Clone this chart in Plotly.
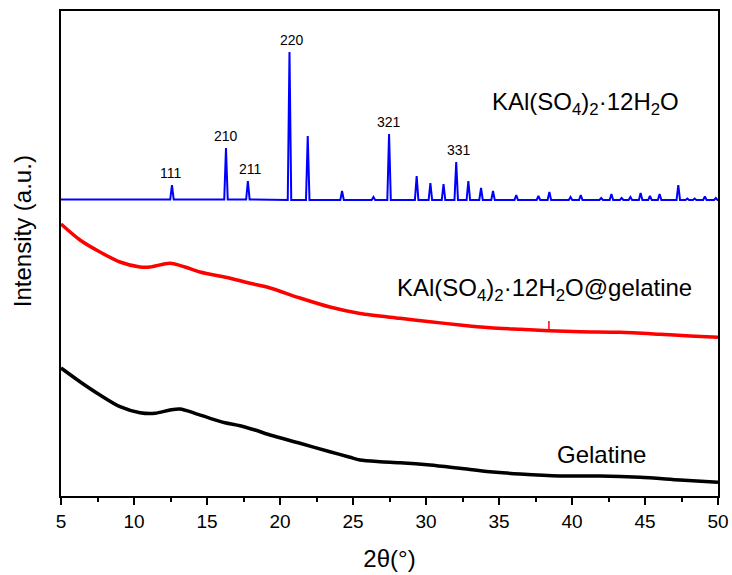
import plotly.graph_objects as go

# ---------------- data ----------------
# KAl(SO4)2·12H2O reference pattern (blue): x = 2θ, y = intensity (a.u., offset)
alum_2theta = [5.0,
               12.48, 12.6, 12.72,
               16.18, 16.3, 16.42,
               17.68, 17.8, 17.92,
               20.53, 20.65, 20.77,
               21.78, 21.9, 22.02,
               24.13, 24.25, 24.37,
               26.28, 26.4, 26.52,
               27.35, 27.47, 27.59,
               29.24, 29.36, 29.48,
               30.18, 30.3, 30.42,
               31.08, 31.2, 31.32,
               31.95, 32.07, 32.19,
               32.78, 32.9, 33.02,
               33.65, 33.77, 33.89,
               34.47, 34.59, 34.71,
               36.06, 36.18, 36.3,
               37.58, 37.7, 37.82,
               38.33, 38.45, 38.57,
               39.78, 39.9, 40.02,
               40.48, 40.6, 40.72,
               41.88, 42.0, 42.12,
               42.58, 42.7, 42.82,
               43.28, 43.4, 43.52,
               43.88, 44.0, 44.12,
               44.58, 44.7, 44.82,
               45.22, 45.34, 45.46,
               45.88, 46.0, 46.12,
               47.16, 47.28, 47.4,
               47.78, 47.9, 48.02,
               48.28, 48.4, 48.52,
               48.98, 49.1, 49.22,
               49.73, 49.85, 49.97,
               50.0]
alum_int = [296.5,
            296.5, 311, 296.5,
            296.5, 348, 296.5,
            296.5, 315, 296.5,
            296, 444, 296,
            296, 360, 296,
            296, 305, 296,
            296, 299, 296,
            296, 362, 296,
            296, 320, 296,
            296, 313, 296,
            296, 312, 296,
            296, 334, 296,
            296, 315, 296,
            296, 308, 296,
            296, 305, 296,
            296, 301, 296,
            296, 300, 296,
            296, 304, 296,
            296, 299, 296,
            296, 301, 296,
            296, 298, 296,
            296, 302, 296,
            296, 298, 296,
            296, 299, 296,
            296, 303, 296,
            296, 300, 296,
            296, 302, 296,
            296, 311, 296,
            296, 297.5, 296,
            296, 297.5, 296,
            296, 299.5, 296,
            296, 298, 296,
            296]

# KAl(SO4)2·12H2O@gelatine (red)
composite_2theta = [5.0, 6.3, 7.67, 9.04, 10.41, 11.1, 12.47, 13.49, 14.52,
                    16.58, 17.95, 19.32, 21.37, 23.42, 25.48, 28.22, 30.27,
                    32.33, 34.38, 36.44, 38.42, 40.55, 43.29,
                    46.03, 48.08, 50.0]
composite_int = [272, 256, 244, 234, 229, 229, 232.7, 229, 224,
                 217.7, 212.7, 208, 198, 189, 182.5, 177.7, 174.3,
                 171, 168.3, 166.7, 165.3, 164.3, 163.7,
                 161.7, 160, 158.7]
# small sharp reflection on the red pattern
composite_spike_2theta = [38.42, 38.42]
composite_spike_int = [165.3, 175]

# Gelatine (black)
gelatine_2theta = [5.0, 6.3, 7.67, 9.04, 10.41, 11.44, 12.47, 13.15, 14.18,
                   15.21, 16.23, 17.26, 18.29, 19.32, 21.37, 23.42, 24.79,
                   25.48, 26.85, 28.22, 30.27, 32.33, 34.38, 36.44, 39.18,
                   41.92, 44.66, 47.4, 50.0]
gelatine_int = [128, 114.3, 101, 89.3, 83.3, 82.7, 86, 87, 82.7,
                77.7, 73.3, 70.3, 66, 61, 52.7, 44.3, 38.7,
                36, 34.3, 33.3, 31, 27.7, 24.3, 22, 20,
                20, 18.7, 16, 13.7]

# Miller-index labels of the reference pattern
hkl_labels = ["111", "210", "211", "220", "321", "331"]
hkl_x = [12.47, 16.29, 18.0, 20.82, 27.47, 32.29]
hkl_peak = [311, 348, 315, 444, 362, 334]

x_ticks = [5, 10, 15, 20, 25, 30, 35, 40, 45, 50]

# ---------------- figure ----------------
FONT = "Arial, Liberation Sans, sans-serif"

fig = go.Figure()
fig.add_trace(go.Scatter(x=gelatine_2theta, y=gelatine_int, mode="lines",
                         line=dict(color="#000000", width=3.5, shape="spline", smoothing=0.8),
                         showlegend=False))
fig.add_trace(go.Scatter(x=composite_2theta, y=composite_int, mode="lines",
                         line=dict(color="#FF0000", width=3.5, shape="spline", smoothing=0.8),
                         showlegend=False))
fig.add_trace(go.Scatter(x=composite_spike_2theta, y=composite_spike_int, mode="lines",
                         line=dict(color="#FF0000", width=1.5), showlegend=False))
fig.add_trace(go.Scatter(x=alum_2theta, y=alum_int, mode="lines",
                         line=dict(color="#0000FF", width=2), showlegend=False))

for lab, lx, ly in zip(hkl_labels, hkl_x, hkl_peak):
    fig.add_annotation(x=lx, y=ly, text=lab, showarrow=False,
                       xanchor="center", yanchor="bottom", yshift=2,
                       font=dict(family=FONT, size=14, color="#000000"))

fig.add_annotation(x=34.38, y=393, text="KAl(SO<sub>4</sub>)<sub>2</sub>·12H<sub>2</sub>O",
                   showarrow=False, xanchor="left", yanchor="middle",
                   font=dict(family=FONT, size=24, color="#000000"))
fig.add_annotation(x=27.88, y=207, text="KAl(SO<sub>4</sub>)<sub>2</sub>·12H<sub>2</sub>O@gelatine",
                   showarrow=False, xanchor="left", yanchor="middle",
                   font=dict(family=FONT, size=24, color="#000000"))
fig.add_annotation(x=38.84, y=42, text="Gelatine",
                   showarrow=False, xanchor="left", yanchor="middle",
                   font=dict(family=FONT, size=24, color="#000000"))

# y-axis title (placed like the reference: slightly above the plot centre)
fig.add_annotation(xref="paper", yref="paper", x=0, y=0.546, xshift=-39,
                   text="Intensity (a.u.)", textangle=-90, showarrow=False,
                   xanchor="center", yanchor="middle",
                   font=dict(family=FONT, size=24, color="#000000"))

fig.update_xaxes(range=[5, 50], tickvals=x_ticks, ticktext=[str(v) for v in x_ticks],
                 ticks="outside", ticklen=7, tickwidth=1.5, tickcolor="#000000",
                 minor=dict(ticks="outside", ticklen=4, tickwidth=1.5, dtick=2.5,
                            tick0=5, tickcolor="#000000"),
                 showline=True, linecolor="#000000", linewidth=1.5, mirror=True,
                 showgrid=False, zeroline=False,
                 tickfont=dict(family=FONT, size=19, color="#000000"),
                 title=dict(text="2θ(°)", standoff=20,
                            font=dict(family=FONT, size=24, color="#000000")))
fig.update_yaxes(range=[0, 485], showticklabels=False, ticks="",
                 showline=True, linecolor="#000000", linewidth=1.5, mirror=True,
                 showgrid=False, zeroline=False)

fig.update_layout(width=732, height=575,
                  margin=dict(l=61, r=14, t=11, b=79, autoexpand=False),
                  paper_bgcolor="#FFFFFF", plot_bgcolor="#FFFFFF")

fig.write_html("out.html")
